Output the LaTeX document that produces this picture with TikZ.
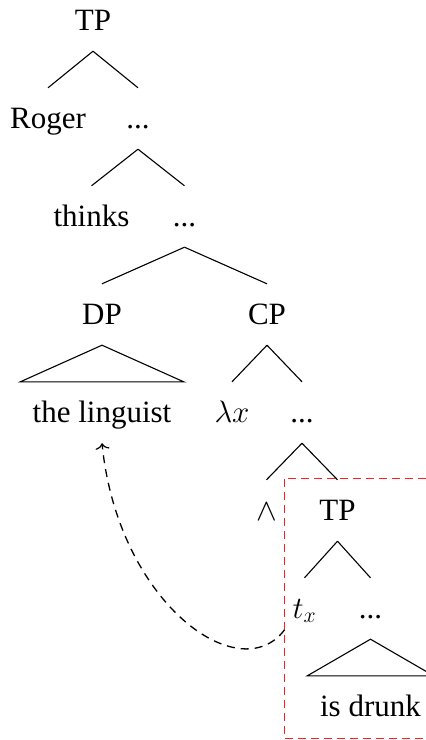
\RequirePackage{fix-cm}
\documentclass[tikz,border=0pt]{standalone}
\usepackage{fontspec}
\setmainfont{Liberation Serif}
\usetikzlibrary{calc,arrows.meta}
\definecolor{boxred}{RGB}{255,30,30}
\begin{document}
\begin{tikzpicture}[grow=down] % дерево
\tikzstyle{word} = [font=\fontsize{31pt}{37pt}\selectfont, text height=22pt, text depth=3pt, inner xsep=4pt, inner ysep=18pt] % every label
\tikzstyle{roof} = [edge from parent path={(\tikzparentnode.south) -- (\tikzchildnode.north west) -- (\tikzchildnode.north east) -- cycle}] % triangle over a phrase
\tikzstyle{redbox} = [draw=boxred, dash pattern=on 8pt off 5pt, line width=1.3pt] % the embedded TP
\tikzstyle{move} = [-{To[length=6pt,width=14pt,line width=1.2pt]}, dash pattern=on 8pt off 6pt, line width=1.3pt] % trace to antecedent
\tikzstyle{every node}=[word]
\tikzstyle{edge from parent}=[draw, line width=1.1pt]
\useasboundingbox (0,0) rectangle (426pt,-740pt);
\node (tp) at (93pt,-20.5pt) {TP} [level distance=98pt, sibling distance=90pt, edge from parent path={(\tikzparentnode.south) -- (\tikzchildnode.north)}]
    child { node (roger) {Roger} }
    child { node (dots1) {...} [sibling distance=93pt]
        child { node (thinks) {thinks} }
        child { node (dots2) {...} [sibling distance=165pt]
            child { node (dp) {DP}
                child[roof] { node[minimum width=163pt] (ling) {the linguist} } }
            child { node (cp) {CP} [sibling distance=70pt]
                child { node (lam) {$\lambda x$} }
                child { node (dots3) {...} [sibling distance=71pt]
                    child { node (conj) {$\wedge$} }
                    child { node (tp2) {TP} [sibling distance=66pt]
                        child { node (tx) {$t_x$} }
                        child { node (dots4) {...}
                            child[roof] { node[minimum width=126pt] (drunk) {is drunk} } } } } } } };
\draw[redbox] ($(tx.west |- tp2.north)+(-4pt,1pt)$) rectangle ($(drunk.south east)+(0,-1pt)$);
\draw[move] ($(tx.west |- tp2.north)+(-4pt,-150pt)$) .. controls +(-45pt,-60pt) and +(16pt,-160pt) .. (ling.south);
\end{tikzpicture}
\end{document}
